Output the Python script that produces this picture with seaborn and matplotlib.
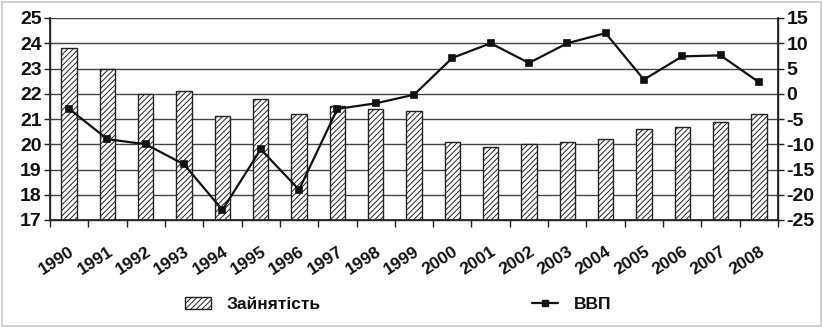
import matplotlib
matplotlib.use("Agg")
import matplotlib.pyplot as plt
import matplotlib.transforms as mtransforms
import seaborn as sns
import numpy as np
import pandas as pd
from matplotlib.patches import Rectangle, Patch
from matplotlib.lines import Line2D

years = [str(y) for y in range(1990, 2009)]
employment = [23.8, 23.0, 22.0, 22.1, 21.1, 21.8, 21.2, 21.5, 21.4, 21.3,
              20.1, 19.9, 20.0, 20.1, 20.2, 20.6, 20.7, 20.9, 21.2]
gdp = [-3.0, -9.0, -10.0, -14.0, -23.0, -11.0, -19.0, -3.0, -1.9, -0.2,
       7.1, 10.0, 6.1, 10.0, 12.0, 2.8, 7.4, 7.6, 2.3]
left_ticks = list(range(17, 26))
right_ticks = list(range(-25, 16, 5))

sns.set_theme(style="white")
plt.rcParams['font.family'] = ['Liberation Sans', 'DejaVu Sans']
plt.rcParams['font.weight'] = 'bold'
plt.rcParams['hatch.linewidth'] = 0.7
plt.rcParams['hatch.color'] = '#333333'
plt.rcParams['axes.unicode_minus'] = False
plt.rcParams['text.color'] = '#111111'
plt.rcParams['xtick.color'] = '#111111'
plt.rcParams['ytick.color'] = '#111111'

df = pd.DataFrame({"year": years, "emp": employment, "gdp": gdp})

fig = plt.figure(figsize=(8.23, 3.27), dpi=100)
ax = fig.add_axes([50/823, 1-220/327, (778-50)/823, (220-18)/327])

sns.barplot(data=df, x="year", y="emp", ax=ax, color="white", width=0.4,
            edgecolor="#222222", linewidth=1.0, hatch="//////", zorder=2)
ax.set_ylim(17, 25)
ax.set_xlim(-0.5, 18.5)
ax.grid(axis='y', color='#444444', linewidth=1.0, zorder=0)
ax.set_axisbelow(True)
ax.set_xlabel("")
ax.set_ylabel("")
ax.spines['top'].set_visible(False)
for s in ['left', 'bottom', 'right']:
    ax.spines[s].set_color('#222222')
    ax.spines[s].set_linewidth(1.0)

ax.set_yticks(left_ticks)
ax.set_yticklabels([str(v) for v in left_ticks], fontsize=14, fontweight='bold')
ax.set_xticks(range(len(years)))
ax.set_xticklabels(years, rotation=33, ha='right', rotation_mode='anchor',
                   fontsize=12.5, fontweight='bold')
shift = mtransforms.ScaledTranslation(6/100, 0, fig.dpi_scale_trans)
for lab in ax.get_xticklabels():
    lab.set_transform(lab.get_transform() + shift)
ax.set_xticks(np.arange(-0.5, len(years), 1), minor=True)
ax.tick_params(axis='x', which='major', length=0, pad=17)
ax.tick_params(axis='x', which='minor', length=5, width=1, color='#222222', direction='out', bottom=True)
ax.tick_params(axis='y', length=4, width=1, color='#222222', direction='out', left=True, pad=2)

ax2 = ax.twinx()
sns.pointplot(data=df, x="year", y="gdp", ax=ax2, color="#111111", markers="s",
              markersize=5, linewidth=1.6)
ax2.set_ylim(-25, 15)
ax2.set_yticks(right_ticks)
ax2.set_yticklabels([str(v) for v in right_ticks], fontsize=14, fontweight='bold')
ax2.set_ylabel("")
ax2.set_xlim(-0.5, 18.5)
ax2.spines['top'].set_visible(False)
ax2.spines['right'].set_color('#222222')
ax2.tick_params(axis='y', length=4, width=1, color='#222222', direction='out', right=True, pad=2)
ax2.grid(False)

handles = [Patch(facecolor='white', edgecolor='#222222', hatch='//////', label='Зайнятість'),
           Line2D([0], [0], color='#111111', marker='s', markersize=5, linewidth=1.6, label='ВВП')]
fig.legend(handles=handles, loc='center', bbox_to_anchor=(398/823, 0.068), ncol=2,
           frameon=False, columnspacing=12.2, handlelength=1.5, handleheight=0.65,
           handletextpad=0.9, prop={'weight': 'bold', 'size': 12.5})

fig.patches.append(Rectangle((0.002, 0.004), 0.995, 0.99, transform=fig.transFigure,
                             fill=False, edgecolor='#c8c8c8', linewidth=1.2))

fig.savefig("out.png", dpi=100)
